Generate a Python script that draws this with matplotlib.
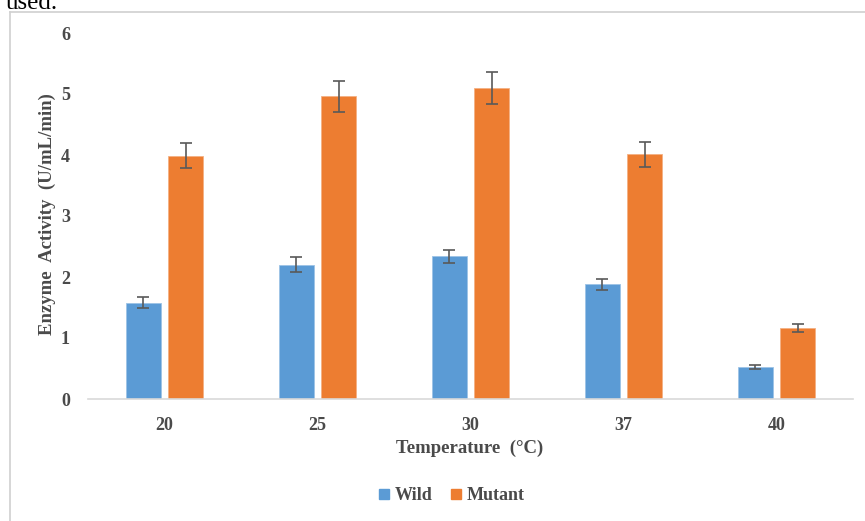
import matplotlib.pyplot as plt
import numpy as np
from matplotlib.lines import Line2D

# Values
temperatures = ['20', '25', '30', '37', '40']
wild = [1.58, 2.2, 2.34, 1.88, 0.53]
wild_err = [0.09, 0.12, 0.11, 0.085, 0.03]
mutant = [3.99, 4.96, 5.1, 4.01, 1.17]
mutant_err = [0.2, 0.25, 0.26, 0.21, 0.065]

blue = '#5B9BD5'
orange = '#ED7D31'
grey = '#595959'
text_grey = '#4A4A4A'

plt.rcParams['font.family'] = ['Liberation Serif', 'DejaVu Serif']

fig = plt.figure(figsize=(8.65, 5.21), dpi=100)
ax = fig.add_axes([88 / 865, 1 - 399 / 521, 765 / 865, 366 / 521])

x = np.arange(len(temperatures))
width = 0.229
offset = 0.14
err_kw = dict(ecolor=grey, elinewidth=1.2, capsize=4, capthick=1.2)
ax.bar(x - offset, wild, width, yerr=wild_err, color=blue, edgecolor='#9DC3E6',
       linewidth=0.6, error_kw=err_kw, label='Wild')
ax.bar(x + offset, mutant, width, yerr=mutant_err, color=orange, edgecolor='#F4B183',
       linewidth=0.6, error_kw=err_kw, label='Mutant')

ax.set_xlim(-0.5, len(temperatures) - 0.5)
ax.set_ylim(0, 6)
ax.set_xticks(x)
ax.set_xticklabels(temperatures)
ax.set_yticks(range(0, 7))
ax.tick_params(length=0, labelsize=13, colors=text_grey, pad=13)
ax.tick_params(axis='y', pad=13)
for lbl in ax.get_xticklabels() + ax.get_yticklabels():
    lbl.set_fontweight('bold')

for side in ['top', 'right', 'left']:
    ax.spines[side].set_visible(False)
ax.spines['bottom'].set_color('#D9D9D9')
ax.spines['bottom'].set_linewidth(1.2)

fig.text(470 / 865, 1 - 448 / 521, 'Temperature  (°C)', ha='center', va='center',
         fontsize=13.5, fontweight='bold', color=text_grey)
fig.text(47 / 865, 1 - 214 / 521, 'Enzyme  Activity  (U/mL/min)', ha='center', va='center',
         rotation=90, fontsize=13.5, fontweight='bold', color=text_grey)

handles = [Line2D([], [], marker='s', linestyle='', color=blue, markersize=7),
           Line2D([], [], marker='s', linestyle='', color=orange, markersize=7)]
leg = fig.legend(handles, ['Wild', 'Mutant'], loc='center', ncol=2,
                 bbox_to_anchor=(450 / 865, 1 - 496 / 521), frameon=False,
                 handletextpad=0.1, columnspacing=0.8, handlelength=1.0,
                 prop={'size': 13, 'weight': 'bold'})
for t in leg.get_texts():
    t.set_color(text_grey)

# chart border and the cut-off document text above it
fig.add_artist(plt.Line2D([10 / 865, 1], [1 - 12 / 521] * 2, color='#D0D0D0', lw=1.2,
                          transform=fig.transFigure))
fig.add_artist(plt.Line2D([10 / 865] * 2, [0, 1 - 12 / 521], color='#D0D0D0', lw=1.2,
                          transform=fig.transFigure))
fig.text(6 / 865, 1 - 9 / 521, 'used.', ha='left', va='baseline', fontsize=18, color='black')

fig.savefig('out.png', dpi=100)
